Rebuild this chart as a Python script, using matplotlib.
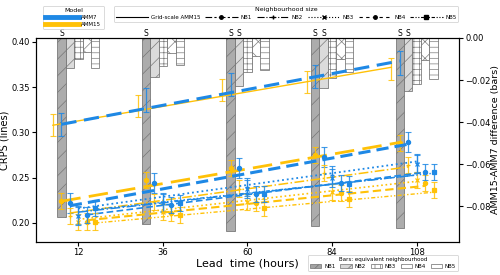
import numpy as np
import matplotlib
matplotlib.use("Agg")
import matplotlib.pyplot as plt
from matplotlib.lines import Line2D
from matplotlib.patches import Patch

# --- data ---
LEAD = [12, 36, 60, 84, 108]
SERIES = ["Grid", "NB1", "NB2", "NB3", "NB4", "NB5"]

# CRPS point values (lines axis)
AMM15_CRPS = [
    [0.308, 0.329, 0.347, 0.356, 0.370],
    [0.2245, 0.2475, 0.261, 0.275, 0.288],
    [0.208, 0.2235, 0.238, 0.255, 0.264],
    [0.201, 0.2125, 0.2235, 0.234, 0.2475],
    [0.2015, 0.211, 0.2225, 0.233, 0.244],
    [0.2015, 0.209, 0.217, 0.2265, 0.2365],
]
AMM7_CRPS = [
    [0.309, 0.336, 0.353, 0.362, 0.377],
    [0.222, 0.244, 0.261, 0.273, 0.289],
    [0.209, 0.2235, 0.240, 0.253, 0.2667],
    [0.208, 0.222, 0.238, 0.250, 0.265],
    [0.209, 0.220, 0.232, 0.244, 0.2563],
    [0.2165, 0.222, 0.232, 0.243, 0.256],
]
AMM15_ERR = [0.012, 0.009, 0.009, 0.009, 0.009, 0.009]
AMM7_ERR = [0.013, 0.011, 0.010, 0.010, 0.009, 0.009]

# straight trend lines: value at first and last lead time
AMM15_TREND = [(0.308, 0.372), (0.224, 0.289), (0.211, 0.262),
               (0.204, 0.246), (0.203, 0.241), (0.200, 0.234)]
AMM7_TREND = [(0.309, 0.379), (0.219, 0.287), (0.212, 0.253),
              (0.216, 0.268), (0.209, 0.256), (0.215, 0.255)]

# AMM15 - AMM7 difference bars, rows NB1..NB5
BAR_DIFF = [
    [-0.085, -0.0886, -0.092, -0.0895, -0.0905],
    [-0.0143, -0.0186, -0.023, -0.024, -0.025],
    [-0.010, -0.0133, -0.016, -0.019, -0.022],
    [-0.0067, -0.0072, -0.0086, -0.010, -0.0105],
    [-0.0143, -0.0129, -0.015, -0.016, -0.0195],
]
# significance markers: (neighbourhood index, lead index)
SIGNIF = [(0, 0), (0, 1), (0, 2), (0, 3), (0, 4), (1, 2), (1, 3), (1, 4)]

# --- styles ---
C7 = "#1e88e5"
C15 = "#ffc107"
OFF15 = [-7.2, -4.8, -2.4, 0.0, 2.4, 4.8]
OFF7 = [-4.8, -2.4, 0.0, 0.0, 2.4, 4.8]
BAR_OFF = [-4.8, -2.4, 0.0, 2.4, 4.8]
BAR_W = 2.4
MARK = [None, "o", "+", "x", "o", "s"]
STY15 = [dict(ls="-", lw=1.0),
         dict(ls=(0, (7, 3)), lw=2.0),
         dict(ls="-.", lw=1.1),
         dict(ls=":", lw=1.2),
         dict(ls=(0, (4, 2)), lw=1.5),
         dict(ls=(0, (3, 1.5, 1, 1.5, 1, 1.5)), lw=1.0)]
STY7 = [dict(ls=(0, (5, 2.5)), lw=2.2),
        dict(ls=(0, (4, 2)), lw=2.2),
        dict(ls="-.", lw=1.1),
        dict(ls=":", lw=1.3),
        dict(ls=(0, (4, 2)), lw=1.2),
        dict(ls=(0, (3, 1.5, 1, 1.5, 1, 1.5)), lw=1.0)]
BAR_FACE = ["#a3a3a3", "#d8d8d8", "white", "white", "white"]
BAR_HATCH = ["//", "//", "+++", "xx", "---"]

plt.rcParams["hatch.linewidth"] = 0.5

fig = plt.figure(figsize=(5, 2.75), dpi=100)
ax = fig.add_axes([0.072, 0.12, 0.846, 0.742])
ax2 = ax.twinx()

# bars on right axis
lead = np.array(LEAD, dtype=float)
for k in range(5):
    ax2.bar(lead + BAR_OFF[k], BAR_DIFF[k], width=BAR_W, bottom=0,
            color=BAR_FACE[k], edgecolor="#707070", hatch=BAR_HATCH[k],
            linewidth=0.6, alpha=0.9)
for k, j in SIGNIF:
    ax2.text(LEAD[j] + BAR_OFF[k], 0.0002, "S", ha="center", va="bottom",
             fontsize=5.5)
ax2.set_ylim(-0.097, 0.0)
ax2.set_yticks([0.0, -0.02, -0.04, -0.06, -0.08])
ax2.set_ylabel("AMM15-AMM7 difference (bars)", fontsize=6.8, labelpad=0.5)
ax2.tick_params(labelsize=6, pad=1.5, length=3)

ax.set_zorder(ax2.get_zorder() + 1)
ax.patch.set_visible(False)

# lines and points on left axis
for i in range(6):
    for vals, err, trend, off, sty, col in (
            (AMM15_CRPS[i], AMM15_ERR[i], AMM15_TREND[i], OFF15[i], STY15[i], C15),
            (AMM7_CRPS[i], AMM7_ERR[i], AMM7_TREND[i], OFF7[i], STY7[i], C7)):
        x = lead + off
        ax.plot([x[0], x[-1]], trend, color=col, ls=sty["ls"], lw=sty["lw"])
        ax.errorbar(x, vals, yerr=err, fmt="none", ecolor=col, elinewidth=0.9,
                    capsize=2, capthick=0.8, alpha=0.85)
        if MARK[i] is not None:
            ax.plot(x, vals, ls="none", marker=MARK[i], color=col, ms=3,
                    mew=0.9)

ax.set_xlim(0, 120)
ax.set_ylim(0.179, 0.4044)
ax.set_xticks(LEAD)
ax.set_yticks([0.20, 0.25, 0.30, 0.35, 0.40])
ax.tick_params(labelsize=6, pad=1.5, length=3)
ax.set_ylabel("CRPS (lines)", fontsize=7, labelpad=1)
ax.set_xlabel("Lead  time (hours)", fontsize=8, labelpad=1)

# legends
model_h = [Line2D([], [], color=C7, lw=3.5), Line2D([], [], color=C15, lw=3.5)]
leg1 = fig.legend(model_h, ["AMM7", "AMM15"], title="Model", loc="upper left",
                  bbox_to_anchor=(0.08, 0.99), fontsize=4,
                  title_fontsize=4.5, handlelength=6, framealpha=1,
                  borderpad=0.45, labelspacing=0.35, handletextpad=0.5)
leg1.get_frame().set_linewidth(0.5)

nb_h = [Line2D([], [], color="k", lw=0.8, ls="-")]
nb_l = ["Grid-scale AMM15"]
nb_ls = [(0, (6, 2, 2, 2)), "-.", ":", (0, (3, 3)), (0, (3, 1.5, 1, 1.5, 1, 1.5))]
nb_mk = ["o", "+", "x", "o", "s"]
for k in range(5):
    nb_h.append(Line2D([], [], color="k", lw=0.8, ls=nb_ls[k],
                       marker=nb_mk[k], ms=2.5))
    nb_l.append("NB%d" % (k + 1))
leg2 = fig.legend(nb_h, nb_l, title="Neighbourhood size", loc="upper right",
                  bbox_to_anchor=(0.922, 0.99), ncol=6, fontsize=4,
                  title_fontsize=4.5, handlelength=5.8, columnspacing=0.9,
                  handletextpad=0.5, framealpha=1, borderpad=0.3)
leg2.get_frame().set_linewidth(0.5)

bar_h = [Patch(facecolor=BAR_FACE[k], edgecolor="#707070", hatch=BAR_HATCH[k],
               linewidth=0.5) for k in range(5)]
leg3 = fig.legend(bar_h, ["NB%d" % (k + 1) for k in range(5)],
                  title="Bars: equivalent neighbourhood", loc="lower right",
                  bbox_to_anchor=(0.922, 0.005), ncol=5, fontsize=4,
                  title_fontsize=4, handlelength=2.0, handleheight=0.8,
                  columnspacing=0.9, handletextpad=0.5,
                  framealpha=1, borderpad=0.4, labelspacing=0.2)
leg3.get_frame().set_linewidth(0.5)

fig.savefig("out.png", dpi=100)
